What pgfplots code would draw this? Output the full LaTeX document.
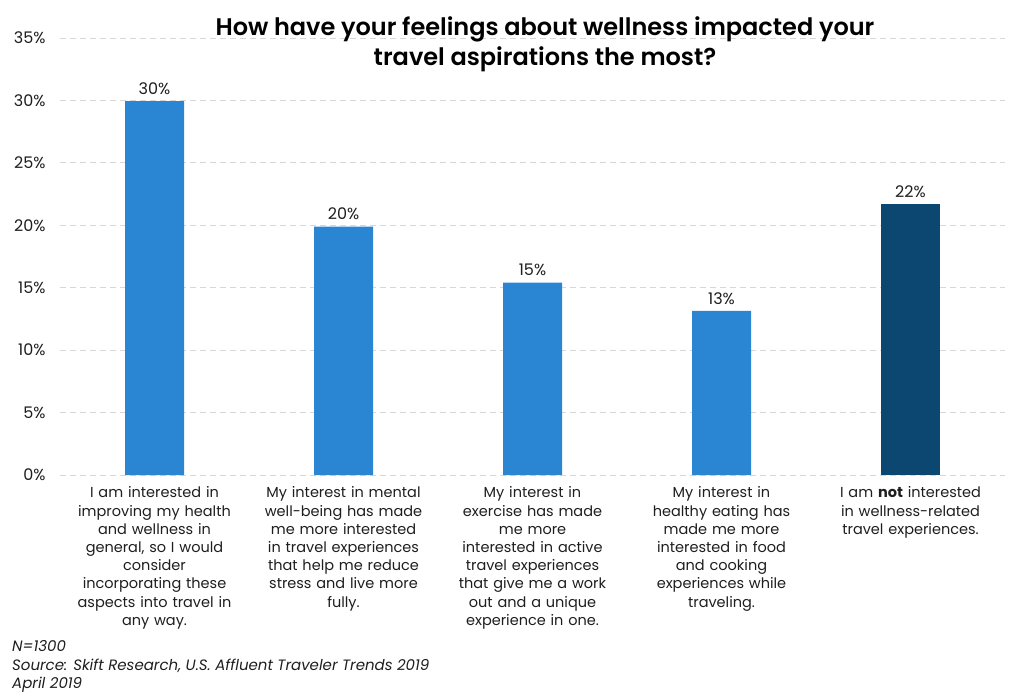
\documentclass[border=0pt]{standalone}
\usepackage{fontspec}
\setmainfont{Poppins}
\newfontfamily\titlefont{Poppins}[UprightFont={* SemiBold}]
\usepackage{pgfplots}
\pgfplotsset{compat=1.18}
\definecolor{barblue}{RGB}{42,134,210}
\definecolor{bardark}{RGB}{11,71,112}
\definecolor{gridgray}{RGB}{215,215,215}
\definecolor{txt}{RGB}{30,30,30}
\begin{document}
\begin{tikzpicture}
\path[use as bounding box] (0,0) rectangle (1024pt,-700pt);
\begin{axis}[
  name=ax,
  at={(60pt,-475pt)}, anchor=south west,
  scale only axis, width=945pt, height=437pt,
  xmin=-0.5, xmax=4.5, ymin=0, ymax=35,
  ybar, bar width=59pt, bar shift=0pt,
  axis line style={draw=none}, tick style={draw=none},
  ytick={0,5,...,35},
  yticklabel={\pgfmathprintnumber{\tick}\%},
  /pgf/number format/assume math mode=true,
  yticklabel style={font=\fontsize{16}{18}\selectfont\color{txt}, xshift=-11pt},
  ymajorgrids, major grid style={gridgray, dash pattern=on 6pt off 4pt, line width=0.8pt},
  xtick={0,1,2,3,4},
  xticklabels={
    {I am interested in\\improving my health\\and wellness in\\general, so I would\\consider\\incorporating these\\aspects into travel in\\any way.},
    {My interest in mental\\well-being has made\\me more interested\\in travel experiences\\that help me reduce\\stress and live more\\fully.},
    {My interest in\\exercise has made\\me more\\interested in active\\travel experiences\\that give me a work\\out and a unique\\experience in one.},
    {My interest in\\healthy eating has\\made me more\\interested in food\\and cooking\\experiences while\\traveling.},
    {I am \textbf{not} interested\\in wellness-related\\travel experiences.}
  },
  xticklabel style={font=\fontsize{14.5}{18.2}\selectfont\color{txt}, align=center, text width=180pt, anchor=north, yshift=-4pt},
  nodes near coords={\pgfmathprintnumber[fixed,precision=0]{\pgfplotspointmeta}\%},
  nodes near coords style={font=\fontsize{16}{18}\selectfont\color{txt}, anchor=south, yshift=3pt},
  clip=false,
]
\addplot[fill=barblue, draw=none] coordinates {(0,29.95) (1,19.9) (2,15.4) (3,13.15)};
\addplot[fill=bardark, draw=none] coordinates {(4,21.7)};
\end{axis}
\node[align=center, font=\fontsize{24}{30}\selectfont\titlefont, text=black] at (545pt,-44pt)
  {How have your feelings about wellness impacted your\\travel aspirations the most?};
\node[anchor=base west, inner sep=0pt, font=\fontsize{15}{18}\selectfont\itshape, text=txt] at (12pt,-651pt)
  {N=1300};
\node[anchor=base west, inner sep=0pt, font=\fontsize{15}{18}\selectfont\itshape, text=txt] at (12pt,-670pt)
  {Source: Skift Research, U.S. Affluent Traveler Trends 2019};
\node[anchor=base west, inner sep=0pt, font=\fontsize{15}{18}\selectfont\itshape, text=txt] at (12pt,-688pt)
  {April 2019};
\end{tikzpicture}
\end{document}
